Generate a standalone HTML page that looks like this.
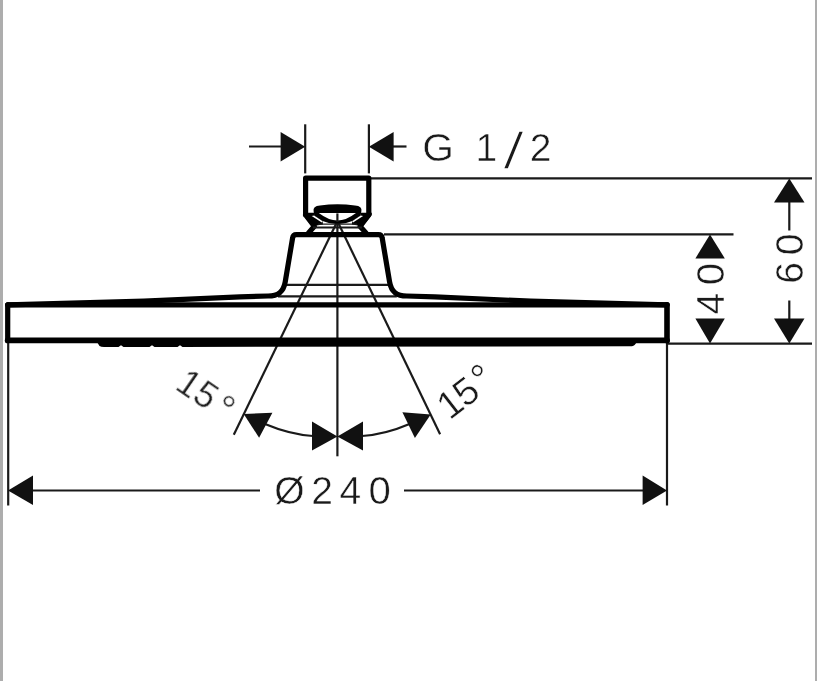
<!DOCTYPE html>
<html><head><meta charset="utf-8">
<style>
html,body{margin:0;padding:0;background:#fff;}
body{width:817px;height:681px;overflow:hidden;position:relative;font-family:"Liberation Sans",sans-serif;}
svg{position:absolute;left:0;top:0;display:block}
text{font-family:"Liberation Sans",sans-serif;fill:#1a1a1a;}
.thin{stroke:#1a1a1a;stroke-width:2.2;fill:none}
.thk{stroke:#000;stroke-width:5.2;fill:none;stroke-linejoin:round;stroke-linecap:round}
.ar{fill:#111;stroke:none}
</style></head>
<body>
<svg width="817" height="681" viewBox="0 0 817 681">
<rect x="0" y="0" width="817" height="681" fill="#fff"/>
<rect x="0" y="0" width="3" height="681" fill="#adadad"/>
<rect x="815" y="0" width="2" height="681" fill="#adadad"/>

<!-- thin dimension / extension lines -->
<g class="thin">
<line x1="305.2" y1="124.3" x2="305.2" y2="173.4"/>
<line x1="368.9" y1="124.3" x2="368.9" y2="173.4"/>
<line x1="249" y1="146.5" x2="282" y2="146.5"/>
<line x1="393" y1="146.5" x2="406.5" y2="146.5"/>
<line x1="371" y1="178.3" x2="812" y2="178.3"/>
<line x1="384" y1="234.3" x2="733.5" y2="234.3"/>
<line x1="668" y1="343.6" x2="812" y2="343.6"/>
<line x1="789.3" y1="200" x2="789.3" y2="230.5"/>
<line x1="789.3" y1="300.5" x2="789.3" y2="320"/>
<line x1="8.2" y1="343" x2="8.2" y2="505.5"/>
<line x1="667" y1="343" x2="667" y2="505.5"/>
<line x1="32" y1="490.5" x2="260" y2="490.5"/>
<line x1="404" y1="490.5" x2="644" y2="490.5"/>
<!-- angle lines -->
<line x1="337.4" y1="212" x2="337.4" y2="456.3"/>
<line x1="337" y1="222" x2="233.8" y2="434.8"/>
<line x1="337.8" y1="222" x2="440.1" y2="434.3"/>
<path d="M265 424 Q290 434.5 313 436"/>
<path d="M409.5 424 Q385 434.5 362 436"/>
<!-- inner thin lines in base -->
<line x1="286" y1="284.8" x2="388.8" y2="284.8"/>
<line x1="278" y1="296.3" x2="396.8" y2="296.3"/>
</g>

<!-- arrows -->
<g class="ar" fill="#111">
<polygon points="305.2,146.7 280.6,132 280.6,161.4"/>
<polygon points="368.9,146.7 393.6,132 393.6,161.4"/>
<polygon points="789.3,178.5 774,202.6 804.5,202.6"/>
<polygon points="789.3,343.6 774,318.6 804.5,318.6"/>
<polygon points="710,234.5 695.4,258.4 724.8,258.4"/>
<polygon points="710,343.6 695.4,318.6 724.8,318.6"/>
<polygon points="8,490.5 33,475.5 33,505"/>
<polygon points="667,490.5 642.6,475.5 642.6,505"/>
<polygon points="337.4,436.5 312,421.6 312,450.5"/>
<polygon points="337.4,436.5 363,421.6 363,450.5"/>
<polygon points="243.7,413.9 272.4,412.8 259.1,437.7"/>
<polygon points="430.7,414.6 402.4,412.2 414.9,438"/>
</g>

<!-- body thick outline -->
<g class="thk">
<!-- connector box -->
<path style="stroke-width:5.2" d="M305.6 215 L305.6 178.2 L368.8 178.2 L368.8 215 L360 226.3 L366 233 M305.6 215 L314.4 226.3 L308.5 233"/>
<!-- base -->
<path d="M8 304.8 L144 301.2 L240 296.9 L268 296 C278 296 283.5 292 285.2 282 L292.6 238 Q293 234.6 296.4 234.6 L378.4 234.6 Q381.8 234.6 382.2 238 L389.6 282 C391.3 292 396.8 296 406.8 296 L434.8 296.9 L530.8 301.2 L667 304.8"/>
<!-- disc -->
<line x1="7.7" y1="304.8" x2="7.7" y2="340.4" style="stroke-width:5.2"/>
<line x1="667" y1="304.8" x2="667" y2="340.4" style="stroke-width:5.6"/>
<line x1="7.7" y1="304.8" x2="667" y2="304.8" style="stroke-width:5.2"/>
<line x1="7.7" y1="340.4" x2="667" y2="340.4" style="stroke-width:5.8"/>
</g>
<!-- nozzle band -->
<path d="M97 342 L99.5 346 Q101 347 104 347 L118.5 347 L121 345.3 L123.5 347 L149.5 347 L152 345.3 L154.5 347 L177.5 347 L180 345.3 L182.5 347 L260 346.8 L632 346.2 Q635 346 636.5 342 Z" fill="#000"/>
<!-- dome inside connector -->
<polygon points="303,212.8 314.2,212.8 314.2,215.5 322.5,221 323,224.6 312,226.3 303,215" fill="#000"/>
<polygon points="371.8,212.8 360.6,212.8 360.6,215.5 352.3,221 351.8,224.6 362.8,226.3 371.8,215" fill="#000"/>
<polygon points="311.7,216.1 314.2,215.4 322.6,221.1 321.8,222.5" fill="#fff"/>
<polygon points="363.1,216.1 360.6,215.4 352.2,221.1 353,222.5" fill="#fff"/>
<path d="M313.6 211 Q312.6 206 320 205.4 Q337.4 203.2 355 205.4 Q362.4 206 361.4 211 L360.6 215.5 L352.3 221 Q345 224.2 337.4 224.2 Q330 224.2 322.5 221 L314.2 215.5 Z" fill="#000"/>
<path d="M318.8 213 L356 213 Q346 220.6 337.4 220.6 Q328.8 220.6 318.8 213 Z" fill="#fff"/>
<g class="thin">
<line x1="337.4" y1="213.4" x2="337.4" y2="222"/>
<line x1="318" y1="224.1" x2="357" y2="224.1" style="stroke-width:1.4"/>
<line x1="313" y1="227.6" x2="362" y2="227.6" style="stroke-width:2"/>
</g>

<!-- texts -->
<g id="txt" opacity="0.999" stroke="#fff" stroke-width="0.5">
<text y="160.7" font-size="39"><tspan x="422.25" textLength="31.69" lengthAdjust="spacingAndGlyphs">G</tspan><tspan> </tspan><tspan x="475.57">1</tspan><tspan x="502.8" textLength="21.6" lengthAdjust="spacingAndGlyphs" font-size="52" dy="8" stroke-width="1.7">/</tspan><tspan x="529.76" dy="-8">2</tspan></text>
<text y="504" font-size="39"><tspan x="274.23">Ø</tspan><tspan x="311.36">2</tspan><tspan x="339.38">4</tspan><tspan x="368.53" textLength="22.34" lengthAdjust="spacingAndGlyphs">0</tspan></text>
<text transform="translate(724,0) rotate(-90)" y="0" font-size="39"><tspan x="-314.50">4</tspan><tspan x="-285.37" textLength="22.34" lengthAdjust="spacingAndGlyphs">0</tspan></text>
<text transform="translate(802.8,0) rotate(-90)" y="0" font-size="39"><tspan x="-283.72">6</tspan><tspan x="-255.14">0</tspan></text>
<text transform="translate(173.7,388.2) rotate(34.5)" y="0" font-size="36"><tspan x="0">1</tspan><tspan x="20.6">5</tspan><tspan x="45.1" dy="2.3" font-size="40">°</tspan></text>
<text transform="translate(449.6,420.7) rotate(-37.6)" y="0" font-size="38.5"><tspan x="0">1</tspan><tspan x="20.2">5</tspan><tspan x="44.3" dy="0.1" font-size="41">°</tspan></text>
</g>
</svg>
</body></html>
